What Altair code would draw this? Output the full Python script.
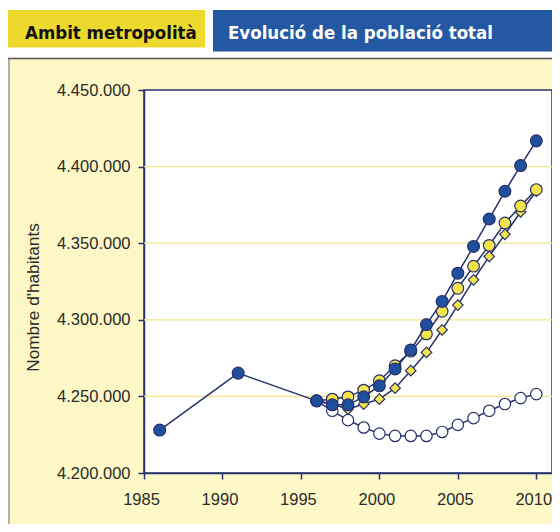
import altair as alt
import pandas as pd

# ---- data ----
years_hist = [1986, 1991, 1996]
pop_hist = [4228000, 4265200, 4247100]

years_proj = [1996, 1997, 1998, 1999, 2000, 2001, 2002, 2003,
              2004, 2005, 2006, 2007, 2008, 2009, 2010]
proj_high = [4247100, 4244500, 4244500, 4249700, 4256900, 4267900, 4280300, 4296900,
             4312000, 4330400, 4347900, 4365800, 4383900, 4400700, 4416800]
proj_mid = [4247100, 4248200, 4249700, 4254100, 4260200, 4270000, 4279500, 4290800,
            4305600, 4320600, 4335000, 4348600, 4363200, 4374300, 4385000]
proj_low = [4247100, 4245000, 4241700, 4245000, 4248200, 4255400, 4266800, 4278700,
            4293400, 4309600, 4326100, 4341400, 4355800, 4370400, 4383900]
proj_zero = [4247100, 4240600, 4234500, 4229700, 4225700, 4224200, 4224200, 4224200,
             4226800, 4231400, 4235800, 4240600, 4245000, 4248900, 4251500]

x_ticks = [1985, 1990, 1995, 2000, 2005, 2010]
y_ticks = [4200000, 4250000, 4300000, 4350000, 4400000, 4450000]
grid_values = [4250000, 4300000, 4350000, 4400000]

header_left = "Ambit metropolità"
header_right = "Evolució de la població total"
y_title = "Nombre d'habitants"

# ---- styling ----
NAVY = "#27316b"
BLUE = "#1f4f9d"
YELLOW = "#f4e44c"
HEAD_YELLOW = "#ecd92c"
HEAD_BLUE = "#2458a2"
PANEL = "#fdf8c6"
GRID = "#f1e488"
FONT = "Liberation Sans"
HFONT = "DejaVu Sans Condensed"

x_scale = alt.Scale(domain=[1985, 2011], nice=False, zero=False)
y_scale = alt.Scale(domain=[4200000, 4450000], nice=False, zero=False)

x_axis = alt.Axis(values=x_ticks, format="d", title=None, grid=False,
                  labelFont=FONT, labelFontSize=16.5, labelColor="#2b2b2b",
                  labelPadding=12, labelOffset=-3, tickSize=6, tickColor=NAVY,
                  tickWidth=1.5, domainColor=NAVY, domainWidth=1.5, labelFlush=False)
y_axis = alt.Axis(values=y_ticks, title=y_title, grid=False,
                  labelExpr="replace(replace(format(datum.value, ','), ',', '.'), ',', '.')",
                  labelFont=FONT, labelFontSize=16.5, labelColor="#2b2b2b",
                  labelPadding=8, tickSize=6, tickColor=NAVY, tickWidth=1.5,
                  domainColor=NAVY, domainWidth=1.5,
                  titleFont=FONT, titleFontSize=17.2, titleFontWeight="normal",
                  titleColor="#2b2b2b", titleX=-111, titleY=207,
                  titleAlign="center", titleBaseline="middle", titleAngle=-90)

X = alt.X("year:Q", scale=x_scale, axis=x_axis)
Y = alt.Y("pop:Q", scale=y_scale, axis=y_axis)


def series(years, vals, shape, fill, size):
    df = pd.DataFrame({"year": years, "pop": vals})
    base = alt.Chart(df)
    line = base.mark_line(color=NAVY, strokeWidth=1.5).encode(x=X, y=Y)
    pts = base.mark_point(shape=shape, filled=True, fill=fill, stroke=NAVY,
                          strokeWidth=1.2, size=size, opacity=1).encode(x=X, y=Y)
    return [line, pts]


one = pd.DataFrame({"k": [0]})

white_strip = alt.Chart(one).mark_rect(color="white").encode(
    x=alt.value(-136), x2=alt.value(408), y=alt.value(-82), y2=alt.value(-31.5))
head_y = alt.Chart(one).mark_rect(color=HEAD_YELLOW).encode(
    x=alt.value(-136), x2=alt.value(61), y=alt.value(-80), y2=alt.value(-42.5))
head_b = alt.Chart(one).mark_rect(color=HEAD_BLUE).encode(
    x=alt.value(69), x2=alt.value(408), y=alt.value(-80), y2=alt.value(-38.5))
text_y = alt.Chart(one).mark_text(text=header_left, font=HFONT, fontSize=18.5,
                                  fontWeight="bold", color="#111111", align="left",
                                  baseline="alphabetic").encode(
    x=alt.value(-119), y=alt.value(-51.5))
text_b = alt.Chart(one).mark_text(text=header_right, font=HFONT, fontSize=18.5,
                                  fontWeight="bold", color="white", align="left",
                                  baseline="alphabetic").encode(
    x=alt.value(84), y=alt.value(-51.5))
sep = alt.Chart(one).mark_rule(color="#555555", strokeWidth=1.5).encode(
    x=alt.value(-136), x2=alt.value(408), y=alt.value(-31.5))
left_border = alt.Chart(one).mark_rule(color="#666688", strokeWidth=1).encode(
    x=alt.value(-135), y=alt.value(-31.5), y2=alt.value(440))

grid = alt.Chart(pd.DataFrame({"pop": grid_values})).mark_rule(
    color=GRID, strokeWidth=1.2).encode(y=Y)

layers = [white_strip, head_y, head_b, text_y, text_b, sep, left_border, grid]
layers += series(years_proj, proj_zero, "circle", "white", 130)
layers += series(years_proj, proj_low, "diamond", YELLOW, 110)
layers += series(years_proj, proj_mid, "circle", YELLOW, 135)
layers += series(years_hist + years_proj[1:], pop_hist + proj_high[1:], "circle", BLUE, 140)

chart = alt.layer(*layers).properties(
    width=408, height=383,
    autosize=alt.AutoSizeParams(type="none"),
    padding={"left": 136, "top": 82, "right": 0, "bottom": 51},
    background=PANEL,
).configure_view(fill="white", stroke=NAVY, strokeWidth=1.5)

chart.save("out.html", embed_options={"renderer": "svg", "actions": False})
